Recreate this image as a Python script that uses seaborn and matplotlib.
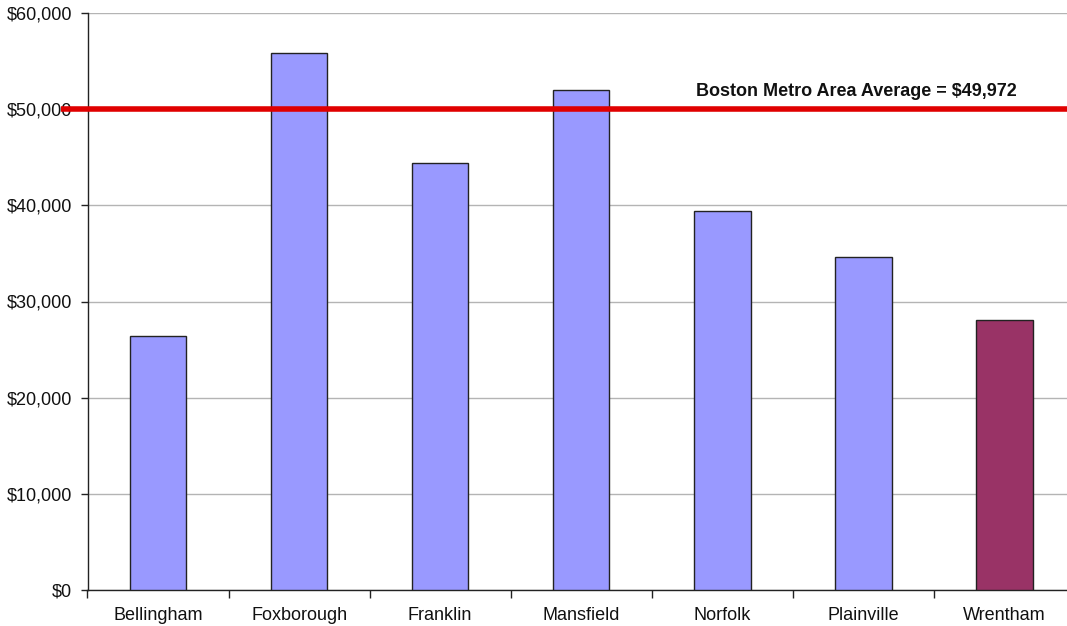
import matplotlib
matplotlib.use("Agg")
import matplotlib.pyplot as plt
import seaborn as sns
import pandas as pd
from matplotlib.ticker import FuncFormatter, FixedLocator

towns = ["Bellingham", "Foxborough", "Franklin", "Mansfield", "Norfolk", "Plainville", "Wrentham"]
income = [26450, 55850, 44400, 52000, 39400, 34600, 28100]
bar_colors = ["#9999FF", "#9999FF", "#9999FF", "#9999FF", "#9999FF", "#9999FF", "#993366"]
metro_avg = 49972
metro_label = "Boston Metro Area Average = $49,972"

sns.set_theme(style="white")
plt.rcParams["font.family"] = ["Liberation Sans", "DejaVu Sans"]

df = pd.DataFrame({"town": towns, "income": income})

fig = plt.figure(figsize=(10.67, 6.26), dpi=100)
# plot area runs slightly past the right edge of the canvas
ax = fig.add_axes([87.5 / 1067, 1 - 590 / 626, (1075 - 87.5) / 1067, (590 - 13) / 626])

sns.barplot(data=df, x="town", y="income", hue="town", palette=bar_colors, saturation=1,
            width=0.4, edgecolor="#222222", linewidth=1.0, legend=False, ax=ax, zorder=3)

ax.set_ylim(0, 60000)
ax.set_xlim(-0.5, len(towns) - 0.5)
ax.set_yticks(range(0, 60001, 10000))
ax.yaxis.set_major_formatter(FuncFormatter(lambda v, p: f"${v:,.0f}"))
ax.yaxis.grid(True, color="#b4b4b4", linewidth=1.0, zorder=0)
ax.set_axisbelow(True)

# ticks between categories
ax.xaxis.set_minor_locator(FixedLocator([i - 0.5 for i in range(len(towns))]))
ax.tick_params(axis="x", which="major", length=0, pad=12, labelsize=13, colors="#111111")
ax.tick_params(axis="x", which="minor", length=6, width=1, color="#222222", direction="out", bottom=True)
ax.tick_params(axis="y", which="major", length=5, width=1, color="#222222", direction="out", left=True,
               labelsize=13, colors="#111111", pad=6)

for side in ["top", "right"]:
    ax.spines[side].set_visible(False)
for side in ["left", "bottom"]:
    ax.spines[side].set_color("#222222")
    ax.spines[side].set_linewidth(1.0)

ax.set_xlabel("")
ax.set_ylabel("")

# metro average reference line, extending slightly past the y axis
ax.plot([-0.69, len(towns) - 0.5], [metro_avg, metro_avg], color="#E00000", linewidth=4,
        clip_on=False, zorder=5, solid_capstyle="butt")
ax.text(4.95, metro_avg + 1000, metro_label, fontsize=13, fontweight="bold",
        ha="center", va="bottom", color="#111111", zorder=6)

fig.savefig("out.png", dpi=100, facecolor="white")
